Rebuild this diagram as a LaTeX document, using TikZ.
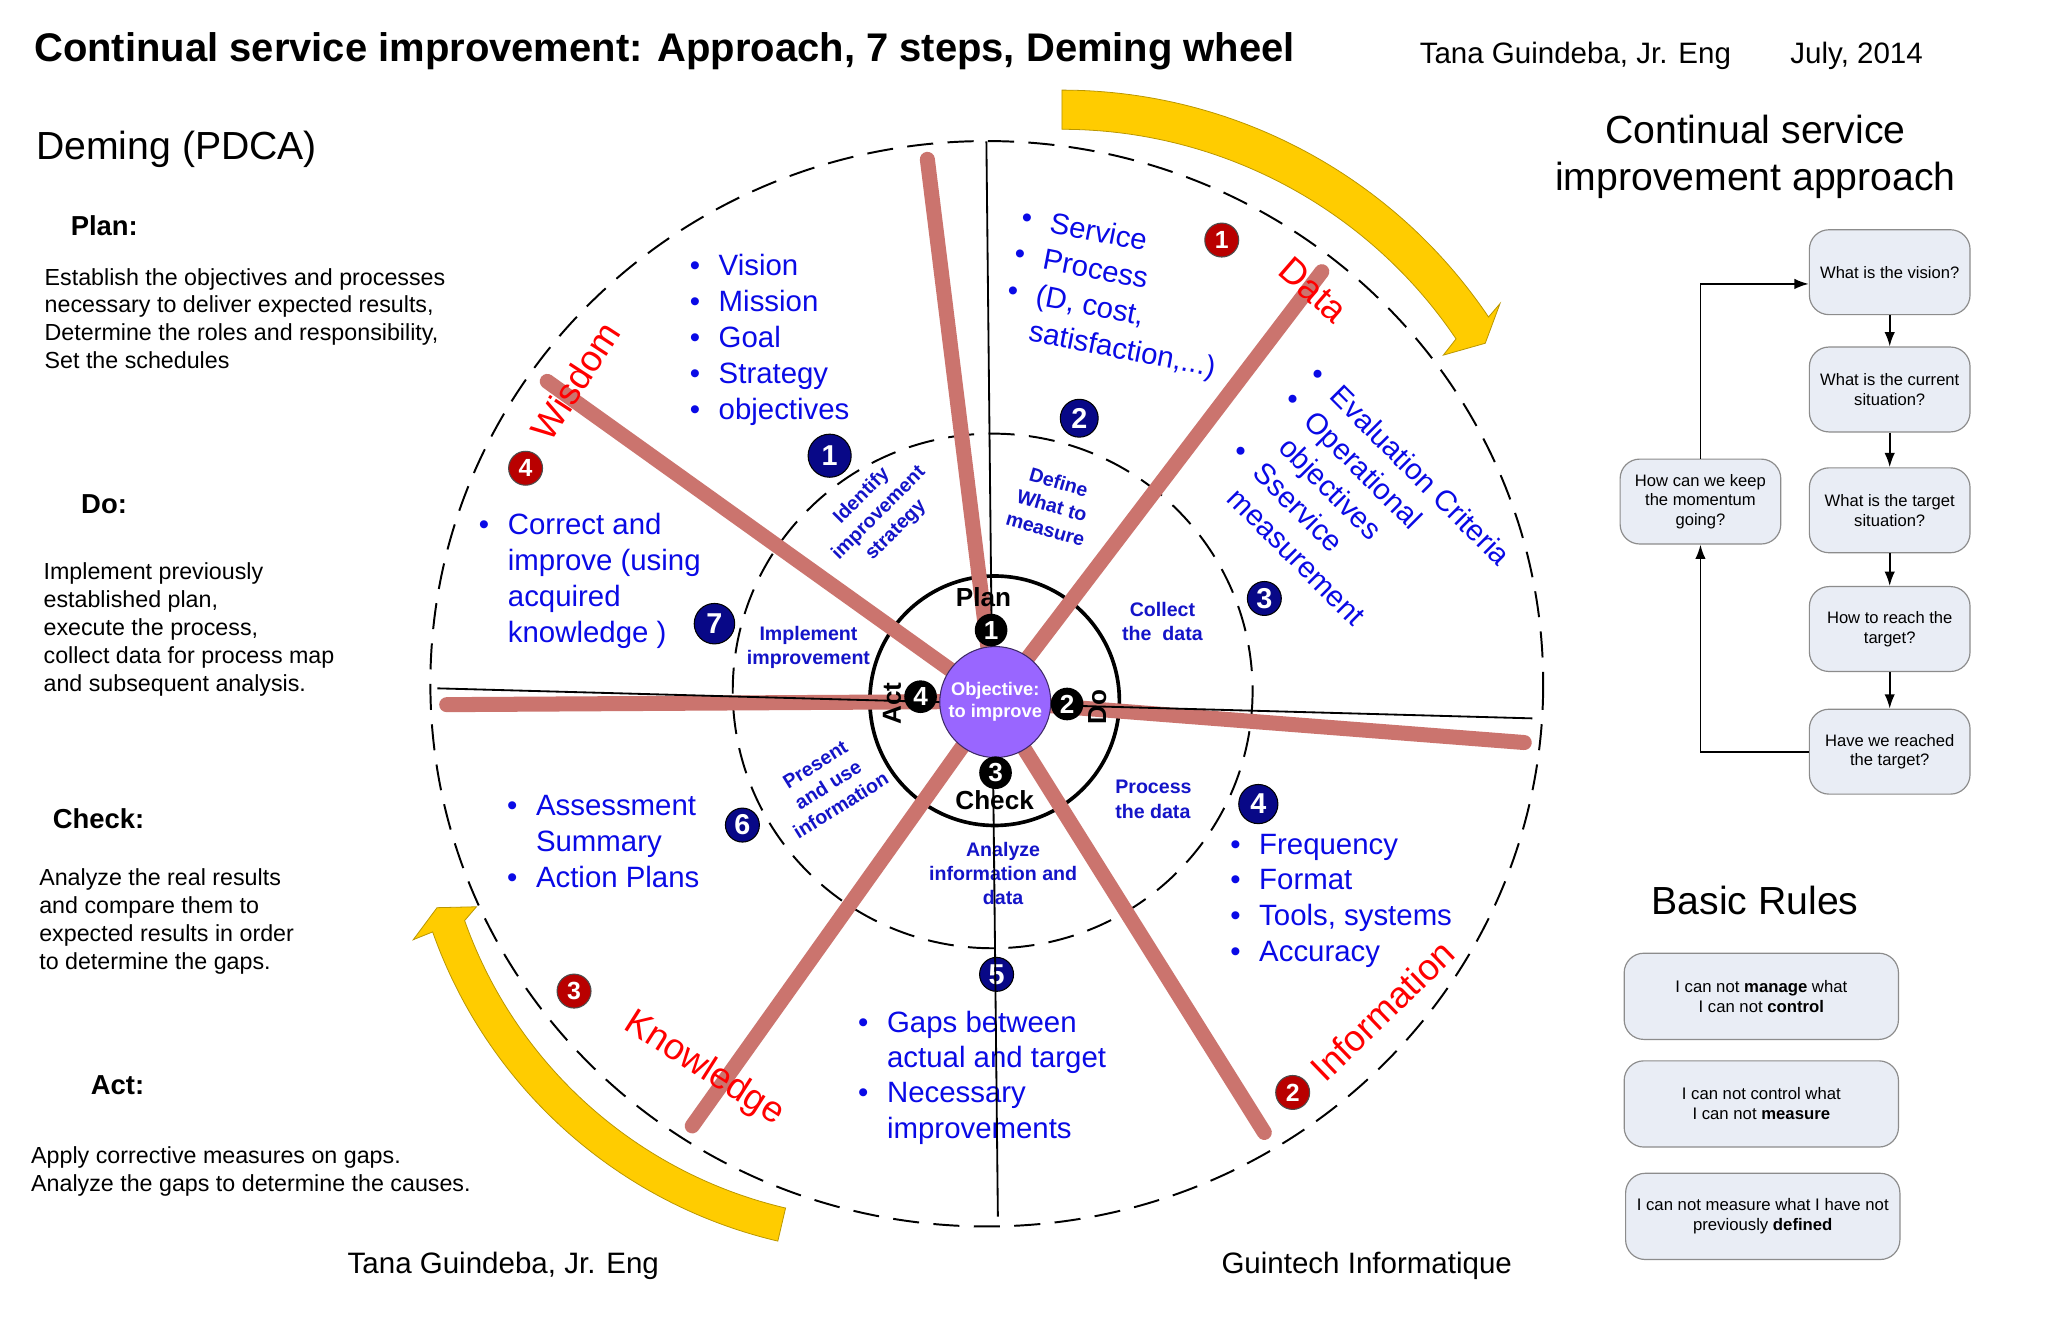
\documentclass[tikz,border=0pt]{standalone}
\usepackage{fontspec}
\setmainfont{Liberation Sans}
\usetikzlibrary{calc,arrows.meta}
\newcommand\setfs[2]{\fontsize{#1}{#2}\selectfont}
\newcommand\blt{\makebox[22.2pt][l]{\textbullet}}
\newcommand\hind{\hspace*{22.2pt}}
\definecolor{spokec}{RGB}{203,116,110}
\definecolor{txtblue}{RGB}{10,10,230}
\definecolor{lblblue}{RGB}{20,20,200}
\definecolor{mknavy}{RGB}{8,8,135}
\definecolor{mkred}{RGB}{185,0,0}
\definecolor{lblred}{RGB}{255,0,0}
\definecolor{purp}{RGB}{153,102,255}
\definecolor{boxfill}{RGB}{233,237,245}
\definecolor{boxline}{RGB}{140,140,140}
\definecolor{yel}{RGB}{255,204,0}
\definecolor{yeledge}{RGB}{185,150,0}
\begin{document}
\begin{tikzpicture}[x=1pt,y=-1pt,
  plain/.style={inner sep=0},
  headtxt/.style={plain,anchor=base west,font=\setfs{21}{25}\bfseries},
  bodytxt/.style={plain,anchor=north west,align=left,font=\setfs{17.8}{21.3}},
  bluetxt/.style={plain,anchor=north west,align=left,text=txtblue,font=\setfs{22.5}{27.5}},
  redlbl/.style={plain,text=lblred,font=\setfs{28}{32}},
  smallbl/.style={plain,align=center,text=lblblue,font=\setfs{15}{18.5}\bfseries},
  blkmark/.style={circle,plain,fill=black,text=white,minimum size=25,font=\setfs{20}{20}\bfseries},
  bluemark/.style={circle,plain,draw=black,line width=0.8,fill=mknavy,text=white,minimum size=#1,font=\setfs{22}{22}\bfseries},
  bluemark/.default=29,
  redmark/.style={circle,plain,draw=black!70,line width=0.8,fill=mkred,text=white,minimum size=26,font=\setfs{19}{19}\bfseries},
  wheellbl/.style={plain,font=\setfs{20}{24}\bfseries},
  fbox/.style={rectangle,rounded corners=15,draw=boxline,line width=0.9,fill=boxfill,minimum width=123,minimum height=65,align=center,inner sep=2,font=\setfs{12.7}{15.1}},
  rbox/.style={rectangle,rounded corners=15,draw=boxline,line width=0.9,fill=boxfill,minimum width=210,minimum height=66,align=center,inner sep=2,font=\setfs{12.8}{15.3}},
  farrow/.style={line width=1.4,-{Latex[length=11pt,width=8pt]}},
  spoke/.style={line width=11.5,color=spokec,line cap=round},
  thinln/.style={line width=1.4,black},
  dashring/.style={line width=1.5,dash pattern=on 20pt off 11pt},
  yarrow/.style={fill=yel,draw=yeledge,line width=0.6}
]
\useasboundingbox[fill=white] (0,0) rectangle (1568,1014);

% ---------- headers ----------
\node[plain,anchor=base west,font=\setfs{30.6}{36}\bfseries] (title) at (26,47) {Continual service improvement: Approach, 7 steps, Deming wheel};
\node[plain,anchor=base west,font=\setfs{22.6}{27}] (auth) at (1086.8,48.5) {Tana Guindeba, Jr. Eng};
\node[plain,anchor=base west,font=\setfs{22.6}{27}] (date) at (1370.6,48.5) {July, 2014};
\node[plain,anchor=base west,font=\setfs{30}{36}] (deming) at (27.5,122.5) {Deming (PDCA)};
\node[plain,anchor=north,align=center,font=\setfs{30}{36}] (csi) at (1344,88) {Continual service\\improvement approach};
\node[plain,anchor=base,font=\setfs{30}{36}] (rules) at (1343.7,699.8) {Basic Rules};

% ---------- left column ----------
\node[headtxt] (hplan) at (54,180) {Plan:};
\node[bodytxt] (tplan) at (34,205.2) {Establish the objectives and processes\\necessary to deliver expected results,\\Determine the roles and responsibility,\\Set the schedules};
\node[headtxt] (hdo) at (62,393) {Do:};
\node[bodytxt] (tdo) at (33.2,430.8) {Implement previously\\established plan,\\execute the process,\\collect data for process map\\and subsequent analysis.};
\node[headtxt] (hcheck) at (40.3,634.4) {Check:};
\node[bodytxt] (tcheck) at (29.9,665.2) {Analyze the real results\\and compare them to\\expected results in order\\to determine the gaps.};
\node[headtxt] (hact) at (69.4,838.3) {Act:};
\node[bodytxt] (tact) at (23.7,878) {Apply corrective measures on gaps.\\Analyze the gaps to determine the causes.};
\node[plain,anchor=base west,font=\setfs{22.6}{27}] (bauth) at (266,975) {Tana Guindeba, Jr. Eng};
\node[plain,anchor=base west,font=\setfs{22.6}{27}] (guin) at (935,975) {Guintech Informatique};

% ---------- yellow arrows ----------
\coordinate (TA) at (813,463);
\filldraw[yarrow] ($(TA)+(-90:394)$) arc[start angle=-90,end angle=-34,radius=394]
  -- ($(TA)+(-34.5:407)$) -- ($(TA)+(-31.7:381)$) -- ($(TA)+(-33.2:349)$)
  -- ($(TA)+(-34:364)$) arc[start angle=-34,end angle=-90,radius=364] -- cycle;
\coordinate (BA) at (680,590);
\filldraw[yarrow] ($(BA)+(103.2:370)$) arc[start angle=103.2,end angle=160.5,radius=370]
  -- ($(BA)+(160.4:386)$) -- ($(BA)+(163.1:361)$) -- ($(BA)+(161.7:332)$)
  -- ($(BA)+(160.5:344)$) arc[start angle=160.5,end angle=103.2,radius=344] -- cycle;

% ---------- rings ----------
\draw[dashring] (755.5,523.5) ellipse[x radius=426,y radius=415.5];
\draw[dashring] (760,529) ellipse[x radius=199,y radius=197];
\draw[line width=2.8] (761.5,536.5) circle[radius=95.5];

% ---------- spokes ----------
\coordinate (C) at (761.5,537);
\coordinate (s1) at (710,122);
\coordinate (s2) at (1012,208);
\coordinate (s3) at (1167,568.5);
\coordinate (s4) at (968,867);
\coordinate (s5) at (530,862);
\coordinate (s6) at (342,539.5);
\coordinate (s7) at (419,292);
\foreach \s in {s1,s2,s3,s4,s5,s6,s7} \draw[spoke] (\s) -- (C);

% ---------- blue lists ----------
\node[bluetxt] (lvis) at (527.9,194.6) {\blt Vision\\\blt Mission\\\blt Goal\\\blt Strategy\\\blt objectives};
\node[bluetxt] (lcor) at (366.5,392.8) {\blt Correct and\\\hind improve (using\\\hind acquired\\\hind knowledge )};
\node[bluetxt] (lass) at (388,608.5) {\blt Assessment\\\hind Summary\\\blt Action Plans};
\node[bluetxt,font=\setfs{22.5}{27}] (lgap) at (656.8,773.9) {\blt Gaps between\\\hind actual and target\\\blt Necessary\\\hind improvements};
\node[bluetxt,font=\setfs{22.5}{27.3}] (lfre) at (941.7,638.4) {\blt Frequency\\\blt Format\\\blt Tools, systems\\\blt Accuracy};
\begin{scope}[shift={(786.3,166.2)},rotate=-11,transform shape]
\node[bluetxt,font=\setfs{22.5}{28.2}] (lsvc) at (-3.9,-8.2) {\blt Service\\\blt Process\\\blt (D, cost,\\\hind satisfaction,...)};
\end{scope}
\begin{scope}[shift={(1009.9,285.6)},rotate=-45,transform shape]
\node[bluetxt,font=\setfs{22.5}{27.8}] (leva) at (-3.9,-8.2) {\blt Evaluation Criteria\\\blt Operational\\\hind objectives\\\blt Sservice\\\hind measurement};
\end{scope}

% ---------- red labels ----------
\node[redlbl,rotate=-41] (data) at (1005.5,222) {Data};
\node[redlbl,rotate=57] (wisdom) at (440.7,291.5) {Wisdom};
\node[redlbl,rotate=-32.5] (knowl) at (539,818.5) {Knowledge};
\node[redlbl,rotate=44] (inform) at (1058.4,773.8) {Information};

% ---------- small step labels ----------
\node[smallbl] (simp) at (619,496) {Implement\\improvement};
\node[smallbl] (scol) at (890,476) {Collect\\the\ \ data};
\node[smallbl,align=left,anchor=west] (spro) at (853.7,612) {Process\\the data};
\node[smallbl] (sana) at (768,669) {Analyze\\information and\\data};
\node[smallbl,rotate=-16] (sdef) at (805.5,387) {Define\\What to\\measure};
\node[smallbl,rotate=45] (side) at (673,393) {Identify\\improvement\\strategy};
\node[smallbl,rotate=32] (spre) at (634,601) {Present\\and use\\information};

% ---------- numbered markers ----------
\node[bluemark=33] (bm1) at (635.2,348.9) {1};
\node[bluemark=29] (bm2) at (826.3,320.2) {2};
\node[bluemark=26] (bm3) at (968,458.2) {3};
\node[bluemark=30] (bm4) at (963.4,615.6) {4};
\node[bluemark=26] (bm5) at (763,746) {5};
\node[bluemark=26] (bm6) at (568.4,631.7) {6};
\node[bluemark=31] (bm7) at (547,477.5) {7};
\node[redmark] (rm1) at (935.4,183.8) {1};
\node[redmark] (rm2) at (989.7,836.4) {2};
\node[redmark] (rm3) at (439.5,758.8) {3};
\node[redmark] (rm4) at (402.4,358.5) {4};

% ---------- PDCA labels ----------
\node[wheellbl] (lplan) at (753,457) {Plan};
\node[wheellbl] (lchk) at (761.5,612.5) {Check};
\node[wheellbl,rotate=90] (lact) at (683,538.5) {Act};
\node[wheellbl,rotate=90] (ldo) at (840,541) {Do};

% ---------- thin axis lines ----------
\coordinate (VT) at (755.2,108.3);
\coordinate (VB) at (764,931.5);
\coordinate (HL) at (334.8,527);
\coordinate (HR) at (1173.2,550);
\draw[thinln] (VT) -- (VB);
\draw[thinln] (HL) -- (HR);

% ---------- hub ----------
\node[circle,plain,minimum size=85,fill=purp,draw=black!60!purp,line width=0.8,text=white,align=center,font=\setfs{14}{16.6}\bfseries] (obj) at (762,537.5) {Objective:\\to improve};
\node[blkmark] (km1) at (758.8,482.4) {1};
\node[blkmark] (km2) at (817,539) {2};
\node[blkmark] (km3) at (762.2,591.6) {3};
\node[blkmark] (km4) at (704.8,533.4) {4};

% ---------- approach flowchart ----------
\node[fbox] (fq1) at (1446.8,208.4) {What is the vision?};
\node[fbox] (fq2) at (1446.8,298.2) {What is the current\\situation?};
\node[fbox] (fq3) at (1446.8,390.7) {What is the target\\situation?};
\node[fbox] (fq4) at (1446.8,481.6) {How to reach the\\target?};
\node[fbox] (fq5) at (1446.8,575.5) {Have we reached\\the target?};
\node[fbox] (fqm) at (1301.9,384) {How can we keep\\the momentum\\going?};
\draw[farrow] (fq1.south) -- (fq2.north);
\draw[farrow] (fq2.south) -- (fq3.north);
\draw[farrow] (fq3.south) -- (fq4.north);
\draw[farrow] (fq4.south) -- (fq5.north);
\draw[farrow] (fq5.west) -| (fqm.south);
\draw[farrow] (fqm.north) |- ($(fq1.west)+(0,9)$);

% ---------- basic rules ----------
\node[rbox] (ru1) at (1348.5,762.8) {I can not \textbf{manage} what\\I can not \textbf{control}};
\node[rbox] (ru2) at (1348.5,845.2) {I can not control what\\I can not \textbf{measure}};
\node[rbox] (ru3) at (1349.6,931.3) {I can not measure what I have not\\previously \textbf{defined}};
\end{tikzpicture}
\end{document}
